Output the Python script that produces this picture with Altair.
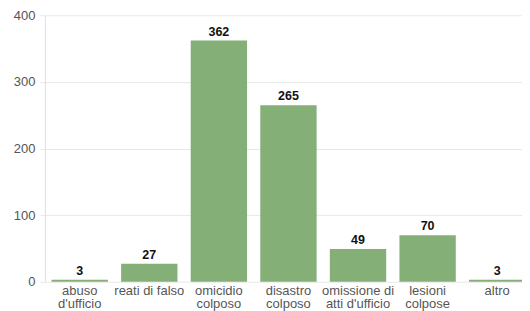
import altair as alt
import pandas as pd

categories = ["abuso|d'ufficio", "reati di falso", "omicidio|colposo", "disastro|colposo",
              "omissione di|atti d'ufficio", "lesioni|colpose", "altro"]
values = [3, 27, 362, 265, 49, 70, 3]

df = pd.DataFrame({"cat": categories, "val": values})
FONT = "Liberation Sans"

x = alt.X("cat:N", sort=categories, title=None,
          scale=alt.Scale(paddingInner=0.19, paddingOuter=0.095),
          axis=alt.Axis(labelAngle=0, labelExpr="split(datum.label, '|')",
                        labelFontSize=13, labelColor="#555555", labelFont=FONT,
                        labelPadding=3, ticks=False, domain=False, labelLineHeight=12.5))
y = alt.Y("val:Q", title=None, scale=alt.Scale(domain=[0, 400]),
          axis=alt.Axis(values=[0, 100, 200, 300, 400], labelFontSize=13, labelColor="#555555",
                        labelFont=FONT, gridColor="#e8e8e8", tickColor="#e8e8e8", tickSize=5,
                        domainColor="#e0e0e0", labelPadding=5))

bars = alt.Chart(df).mark_bar(color="#84AF77").encode(x=x, y=y)
text = alt.Chart(df).mark_text(dy=-9, fontWeight="bold", fontSize=12.5, font=FONT, color="#111111").encode(
    x=alt.X("cat:N", sort=categories), y="val:Q", text="val:Q")

chart = (bars + text).properties(width=488, height=267, padding={"left": 5, "top": 1, "right": -10, "bottom": 0}).configure_view(stroke=None)
chart.save("out.html", embed_options={"renderer": "svg", "actions": False})
